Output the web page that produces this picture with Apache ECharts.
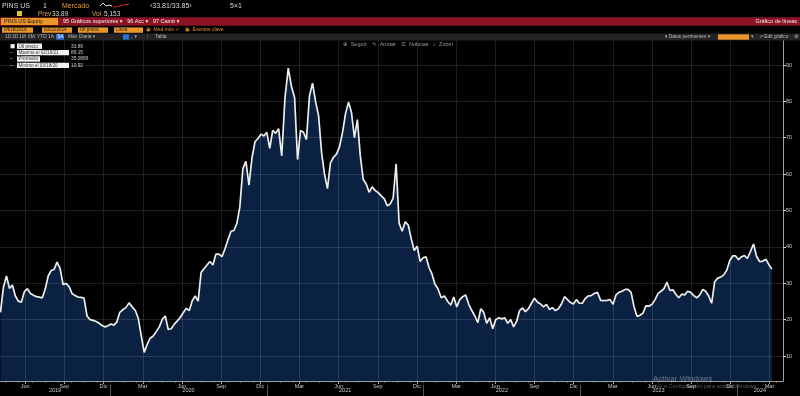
<!DOCTYPE html>
<html><head><meta charset="utf-8">
<script src="https://cdn.jsdelivr.net/npm/echarts@6/dist/echarts.min.js"></script>
<style>html,body{margin:0;padding:0;background:#000;}#c{width:800px;height:396px;}</style>
</head><body><div id="c"></div>
<script>
// ---- data (PINS US, weekly closes) ----
const weekStart = '2019-04-19';
const weeklyClose = [
 22, 29, 32, 28.6, 29.5, 26.5, 25.1, 24.8, 27.7, 28.5,
 27.2, 26.7, 26.3, 26.2, 26.0, 28.4, 32.0, 33.5, 33.8, 35.8,
 34.1, 29.6, 30.0, 29.0, 27.1, 26.6, 26.2, 26.1, 25.9, 21.0,
 20.0, 19.8, 19.5, 19.0, 18.4, 18.0, 18.3, 18.8, 18.5, 19.4,
 22.0, 22.7, 23.3, 24.6, 23.5, 22.5, 20.3, 15.5, 11.0, 13.2,
 14.9, 15.5, 16.7, 18.0, 20.1, 21.0, 17.3, 17.5, 18.7, 19.6,
 20.6, 21.9, 23.1, 22.5, 25.2, 26.5, 25.1, 33.0, 34.0, 35.0,
 36.0, 35.0, 38.0, 38.0, 37.3, 39.5, 42.0, 44.3, 44.5, 46.5,
 51.0, 61.5, 63.5, 57.0, 64.5, 68.9, 69.8, 71.0, 70.5, 71.5,
 67.1, 72.0, 71.2, 72.5, 65.0, 81.0, 89.15, 84.0, 81.0, 64.0,
 72.0, 71.5, 69.5, 81.5, 85.0, 80.0, 76.0, 66.0, 60.0, 56.0,
 63.0, 64.6, 65.5, 67.5, 71.5, 76.7, 79.8, 77.0, 70.0, 75.0,
 65.0, 58.5, 57.3, 55.0, 56.5, 55.5, 54.9, 54.0, 53.2, 51.3,
 51.8, 53.4, 62.8, 46.5, 44.3, 46.9, 46.0, 42.2, 39.0, 40.2,
 36.0, 37.0, 37.3, 34.4, 32.6, 29.8, 28.5, 26.0, 26.5, 25.0,
 24.0, 26.2, 23.5, 25.5, 26.3, 26.8, 24.2, 22.5, 21.0, 19.2,
 23.0, 22.0, 19.0, 20.5, 17.5, 20.0, 20.5, 20.2, 20.5, 19.0,
 20.0, 18.0, 19.5, 22.5, 23.2, 22.2, 23.0, 24.5, 25.9, 24.8,
 24.3, 23.5, 24.2, 22.8, 23.3, 22.5, 23.0, 24.3, 26.3, 25.5,
 24.7, 24.3, 25.5, 24.5, 24.5, 25.8, 26.5, 26.6, 27.2, 27.5,
 25.3, 25.2, 25.3, 25.5, 24.2, 26.8, 27.5, 27.8, 28.3, 28.3,
 27.5, 23.5, 20.9, 21.2, 21.8, 23.8, 23.7, 24.2, 25.5, 27.2,
 27.8, 28.5, 30.3, 28.0, 28.2, 27.0, 26.0, 27.0, 26.8, 27.8,
 27.5, 26.6, 26.0, 26.8, 28.3, 27.8, 26.5, 24.5, 30.4, 31.4,
 31.7, 32.3, 33.6, 36.2, 37.5, 37.5, 36.5, 37.3, 37.6, 36.8,
 38.7, 40.8, 37.3, 35.9, 36.1, 36.6, 35.1, 33.89
];
const xTickMonths = ['2019-06','2019-09','2019-12','2020-03','2020-06','2020-09','2020-12','2021-03','2021-06','2021-09','2021-12','2022-03','2022-06','2022-09','2022-12','2023-03','2023-06','2023-09','2023-12','2024-03'];
const monthNames = ['Ene','Feb','Mar','Abr','May','Jun','Jul','Ago','Sep','Oct','Nov','Dic'];
const yearLabels = ['2019','2020','2021','2022','2023','2024'];
const yTickValues = [10, 20, 30, 40, 50, 60, 70, 80, 90];
const yRange = [3.13, 96.87];
const axisStartDate = '2019-04-18';
const axisEndDate = '2024-04-17';
const lastPrice = 33.89;
const statNames = ['Últ precio', 'Máximo el 02/16/21', 'Promedio', 'Mínimo el 03/18/20'];
const statValues = ['33.89', '89.15', '35.0886', '10.92'];

// ---- helpers ----
const FONT = '"Liberation Sans", "DejaVu Sans", Arial, sans-serif';
function monthPos(s) {
  const p = s.split('-').map(Number);
  const y = p[0], m = p[1], d = p[2];
  if (d === undefined) return (y - 2019) * 12 + m;          // middle of month
  const dim = new Date(Date.UTC(y, m, 0)).getUTCDate();
  return (y - 2019) * 12 + (m - 1) + (d - 1) / dim + 0.5;
}
const t0 = Date.parse(weekStart + 'T00:00:00Z');
const seriesData = weeklyClose.map((v, i) => {
  const ds = new Date(t0 + i * 7 * 86400000).toISOString().slice(0, 10);
  return [monthPos(ds), v];
});
const xMin = monthPos(axisStartDate), xMax = monthPos(axisEndDate);
const quarterTicks = xTickMonths.map(monthPos);
const monthStarts = [];
for (let k = Math.ceil(xMin - 0.5); k + 0.5 <= xMax; k++) monthStarts.push(k + 0.5);
const yearBounds = [], yearCenters = [];
yearLabels.forEach((yl, i) => {
  const lo = Math.max(i * 12 + 0.5, xMin), hi = Math.min(i * 12 + 12.5, xMax);
  yearCenters.push((lo + hi) / 2);
  if (i > 0) yearBounds.push(i * 12 + 0.5);
});

function T(x, y, text, fill, size, align) {
  return { type: 'text', x: x, y: y, z: 100, silent: true,
    style: { text: text, fill: fill, font: (size || 6) + 'px ' + FONT, textAlign: align || 'left', textVerticalAlign: 'middle' } };
}
function R(x, y, w, h, fill) {
  return { type: 'rect', z: 99, silent: true, shape: { x: x, y: y, width: w, height: h }, style: { fill: fill } };
}
const ORANGE = '#e8952a', GREY = '#d8d8d8';
const chrome = [
  // top header
  T(2, 6, 'PINS US', GREY, 7), T(43, 6, '1', GREY, 7), T(62, 6, 'Mercado', '#e69a2e', 7),
  { type: 'polyline', z: 100, shape: { points: [[100, 6], [103, 3], [106, 6], [109, 5], [112, 6]] }, style: { stroke: '#ddd', lineWidth: 1, fill: null } },
  { type: 'polyline', z: 100, shape: { points: [[113, 7], [118, 6.5], [123, 5], [129, 4]] }, style: { stroke: '#d22', lineWidth: 1, fill: null } },
  T(150, 6, '‹33.81/33.85›', GREY, 7), T(230, 6, '5×1', GREY, 7),
  R(17, 11, 5, 5, '#e6c22e'), T(38, 14, 'Prev', '#d9a35a', 6.5), T(52, 14, '33.89', GREY, 6.5),
  T(92, 14, 'Vol', '#d9a35a', 6.5), T(104, 14, '5,153', GREY, 6.5),
  // red bar
  R(0, 17.3, 800, 8.4, '#8c1324'), R(1, 18, 57, 7, ORANGE),
  T(4, 21.5, 'PINS US Equity', '#1a1a1a', 5.5),
  T(63, 21.5, '95 Gráficos superiores ▾   96 Acc ▾   97 Camb ▾', '#f0f0f0', 5.5),
  T(797, 21.5, 'Gráfico de líneas', '#f0f0f0', 5.5, 'right'),
  // orange inputs row
  R(2, 27.4, 31, 5.4, ORANGE), T(4, 30.1, '04/18/2019', '#1a1a1a', 4.5),
  R(42, 27.4, 30, 5.4, ORANGE), T(44, 30.1, '03/22/2024', '#1a1a1a', 4.5),
  R(78, 27.4, 30, 5.4, ORANGE), T(80, 30.1, 'Últ precio', '#1a1a1a', 4.5),
  R(114, 27.4, 29, 5.4, ORANGE), T(116, 30.1, 'Línea', '#1a1a1a', 4.5),
  T(146, 30.1, '▣  Med móv ✓', ORANGE, 5), T(185, 30.1, '▣  Eventos clave', ORANGE, 5),
  // grey button bar
  R(0, 33.6, 800, 6.8, '#242424'),
  T(5, 37, '1D', '#bbb', 4.8), T(12, 37, '3D', '#bbb', 4.8), T(19, 37, '1M', '#bbb', 4.8),
  T(28, 37, '6M', '#bbb', 4.8), T(37, 37, 'YTD', '#bbb', 4.8), T(48, 37, '1A', '#bbb', 4.8),
  R(56, 34.3, 8, 5.4, '#2d6fd4'), T(57.5, 37, '5A', '#fff', 4.8),
  T(68, 37, 'Máx', '#bbb', 4.8), T(79, 37, 'Diaria ▾', '#bbb', 4.8),
  R(123, 34.3, 6, 5.4, '#2d6fd4'), T(131, 37, '⌞ ▾', '#bbb', 4.8), T(147, 37, '|', '#777', 4.8), T(155, 37, 'Tabla', '#bbb', 4.8),
  T(665, 37, '▾ Datos pertinentes ▾', '#bbb', 4.8), R(718, 34.3, 31, 5.4, ORANGE), T(751, 37, '▾', '#bbb', 4.8),
  T(759, 37, '↗ Edit gráfico', '#bbb', 4.8), T(794, 37, '⚙', '#bbb', 5),
  // chart tools
  T(343, 44.5, '⊕  Seguir', '#9a9a9a', 5.5), T(372, 44.5, '✎  Anotar', '#9a9a9a', 5.5),
  T(401, 44.5, '☰  Noticias', '#9a9a9a', 5.5), T(433, 44.5, '⌕  Zoom', '#9a9a9a', 5.5),
  // watermark
  T(653, 379, 'Activar Windows', 'rgba(255,255,255,0.38)', 8),
  T(656, 386.5, 'Ve a Configuración para activar Windows.', 'rgba(255,255,255,0.32)', 5.5)
];
// statistics box
const statW = [25, 52, 23, 52];
statNames.forEach((n, i) => {
  const y = 43.5 + i * 6.4;
  chrome.push(R(17, y, statW[i], 5.4, '#f2f2f2'));
  chrome.push(T(18.5, y + 2.8, n, '#333', 4.6));
  chrome.push(T(71, y + 2.8, statValues[i], '#cfcfcf', 4.8));
  if (i === 0) chrome.push(R(10.5, y + 0.6, 4.2, 4.2, '#f2f2f2'));
  else chrome.push(T(10, y + 2.8, '–', '#ccc', 5));
});

const gridColor = 'rgba(255,255,255,0.12)';
const chart = echarts.init(document.getElementById('c'), null, { renderer: 'canvas' });
chart.setOption({
  backgroundColor: '#000',
  animation: false,
  textStyle: { fontFamily: FONT },
  grid: { left: 0, right: 17, top: 40, bottom: 15, containLabel: false, outerBoundsMode: 'none' },
  xAxis: [
    { type: 'value', min: xMin, max: xMax, position: 'bottom', z: 3,
      axisLine: { show: true, onZero: false, lineStyle: { color: '#a0a0a0', width: 1 } },
      axisTick: { show: true, customValues: quarterTicks, length: 3, lineStyle: { color: '#a0a0a0' } },
      axisLabel: { customValues: quarterTicks, color: '#c8c8c8', fontSize: 5.5, margin: 2,
        formatter: v => monthNames[(Math.round(v) - 1) % 12] },
      splitLine: { show: true, lineStyle: { color: gridColor, width: 1 } } },
    { type: 'value', min: xMin, max: xMax, position: 'bottom', z: 3,
      axisLine: { show: false }, axisLabel: { show: false }, splitLine: { show: false },
      axisTick: { show: true, customValues: monthStarts, length: 1.5, lineStyle: { color: '#a0a0a0' } } },
    { type: 'value', min: xMin, max: xMax, position: 'bottom', offset: 4, z: 3,
      axisLine: { show: false }, splitLine: { show: false },
      axisTick: { show: true, customValues: yearBounds, length: 11, lineStyle: { color: '#555' } },
      axisLabel: { customValues: yearCenters, color: '#c8c8c8', fontSize: 5.5, margin: 2.5,
        formatter: v => yearLabels[Math.floor((v - 0.5) / 12)] } }
  ],
  yAxis: {
    type: 'value', position: 'right', min: yRange[0], max: yRange[1], z: 3,
    axisLine: { show: true, lineStyle: { color: '#a0a0a0', width: 1 } },
    axisTick: { show: true, customValues: yTickValues, length: 3, lineStyle: { color: '#d0d0d0' } },
    axisLabel: { customValues: yTickValues, color: '#c8c8c8', fontSize: 5.5, margin: 3 },
    splitLine: { show: true, lineStyle: { color: gridColor, width: 1 } }
  },
  series: [{
    type: 'line', xAxisIndex: 0, data: seriesData, symbol: 'none', showSymbol: false, z: 2,
    lineStyle: { color: '#ededed', width: 1.7 },
    areaStyle: { color: '#0a2142', opacity: 1 },
    emphasis: { disabled: true },
    markLine: { silent: true, symbol: ['none', 'none'], animation: false,
      data: [{ yAxis: lastPrice }], lineStyle: { opacity: 0 },
      label: { show: true, position: 'end', distance: 2, formatter: lastPrice.toFixed(2),
        backgroundColor: '#d6d6d6', color: '#111', fontSize: 5, padding: [1.5, 2] } }
  }],
  graphic: { elements: chrome }
});
</script></body></html>
